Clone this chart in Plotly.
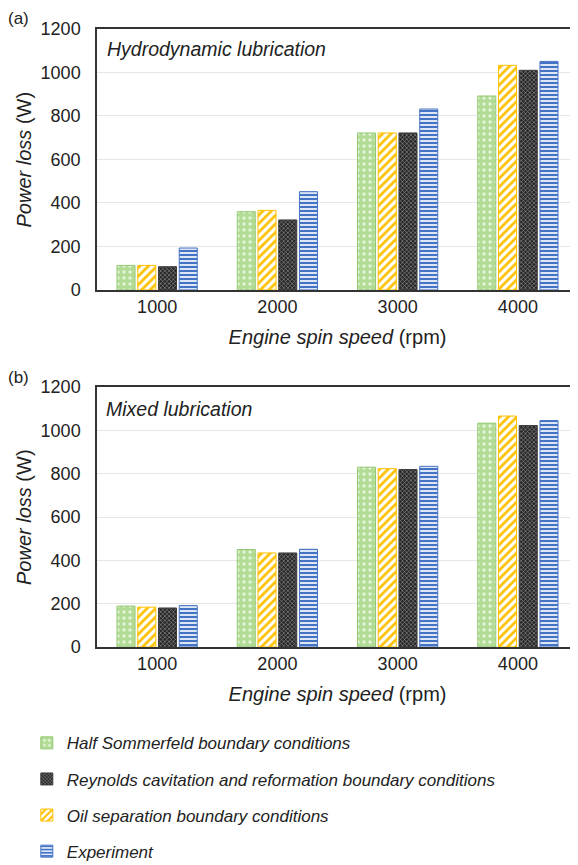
import plotly.graph_objects as go
from plotly.subplots import make_subplots

categories = ["1000", "2000", "3000", "4000"]
series_names = [
    "Half Sommerfeld boundary conditions",
    "Oil separation boundary conditions",
    "Reynolds cavitation and reformation boundary conditions",
    "Experiment",
]
hydro_half = [113, 360, 722, 892]
hydro_oil = [113, 366, 722, 1033]
hydro_reyn = [107, 322, 722, 1010]
hydro_exp = [193, 452, 832, 1051]
mixed_half = [189, 450, 830, 1033]
mixed_oil = [184, 434, 823, 1066]
mixed_reyn = [180, 434, 819, 1022]
mixed_exp = [191, 451, 834, 1045]
y_ticks = [0, 200, 400, 600, 800, 1000, 1200]

styles = [
    dict(bg="#b2db96", fg="#e4f4d8", line="#92c870", shape=".", size=6, sol=0.25, rank=1),
    dict(bg="#ffffff", fg="#ffc000", line="#ffc000", shape="/", size=6, sol=0.45, rank=3),
    dict(bg="#262626", fg="#9a9a9a", line="#3a3a3a", shape="x", size=3, sol=0.35, rank=2),
    dict(bg="#dce6f5", fg="#4472c4", line="#4472c4", shape="-", size=4, sol=0.5, rank=4),
]

fig = make_subplots(rows=2, cols=1, vertical_spacing=0.1)
data = [
    (1, [hydro_half, hydro_oil, hydro_reyn, hydro_exp]),
    (2, [mixed_half, mixed_oil, mixed_reyn, mixed_exp]),
]
for row, sets in data:
    for name, vals, st in zip(series_names, sets, styles):
        fig.add_trace(
            go.Bar(
                x=categories, y=vals, name="<i>" + name + "</i>",
                legendgroup=name, legendrank=st["rank"], showlegend=(row == 1),
                marker=dict(
                    color=st["bg"],
                    line=dict(color=st["line"], width=1),
                    pattern=dict(shape=st["shape"], fgcolor=st["fg"], bgcolor=st["bg"],
                                 size=st["size"], solidity=st["sol"], fillmode="replace"),
                ),
            ),
            row=row, col=1,
        )

font = dict(family="Liberation Sans, Arial, sans-serif", size=17, color="#222222")
# the page body adds an 8px margin, so the figure is 8px smaller than the window
fig.update_layout(
    width=570, height=857,
    margin=dict(l=89, r=0, t=21, b=218, autoexpand=False),
    paper_bgcolor="white", plot_bgcolor="white",
    barmode="group", bargap=0.31, bargroupgap=0.13,
    font=font,
    legend=dict(xref="container", yref="container", x=0.033, y=0.163,
                xanchor="left", yanchor="top",
                tracegroupgap=11, font=dict(size=17), itemwidth=30),
)
fig.update_layout(
    yaxis=dict(domain=[0.5777, 1.0]),
    yaxis2=dict(domain=[0.0, 0.4207]),
)
for r in (1, 2):
    fig.update_xaxes(type="category", showline=True, linecolor="#333333", linewidth=1.5,
                     mirror=True, ticks="", tickfont=dict(size=18),
                     title=dict(text="<i>Engine spin speed</i> (rpm)", font=dict(size=20), standoff=14),
                     row=r, col=1)
    fig.update_yaxes(range=[0, 1200], tickvals=y_ticks, showline=True, linecolor="#333333",
                     linewidth=1.5, mirror=True, showgrid=True, gridcolor="#e6e6e6",
                     ticklabelstandoff=11, tickfont=dict(size=18), zeroline=False,
                     row=r, col=1)

for yref in ("y domain", "y2 domain"):
    fig.add_annotation(text="<i>Power loss</i> (W)", xref="paper", yref=yref, x=0, y=0.5,
                       xanchor="center", yanchor="middle", textangle=-90, xshift=-73,
                       showarrow=False, font=dict(size=20))

fig.add_annotation(text="(a)", xref="paper", yref="paper", x=0, y=1.0, xanchor="left",
                   yanchor="middle", xshift=-91, yshift=11, showarrow=False, font=dict(size=17))
fig.add_annotation(text="(b)", xref="paper", yref="paper", x=0, y=0.4207, xanchor="left",
                   yanchor="middle", xshift=-91, yshift=10, showarrow=False, font=dict(size=17))
fig.add_annotation(text="<i>Hydrodynamic lubrication</i>", xref="x domain", yref="y domain",
                   x=0, y=0.923, xanchor="left", yanchor="middle", showarrow=False,
                   xshift=8, font=dict(size=19.5))
fig.add_annotation(text="<i>Mixed lubrication</i>", xref="x2 domain", yref="y2 domain",
                   x=0, y=0.915, xanchor="left", yanchor="middle", showarrow=False,
                   xshift=7, font=dict(size=19.5))

fig.write_html("out.html")
